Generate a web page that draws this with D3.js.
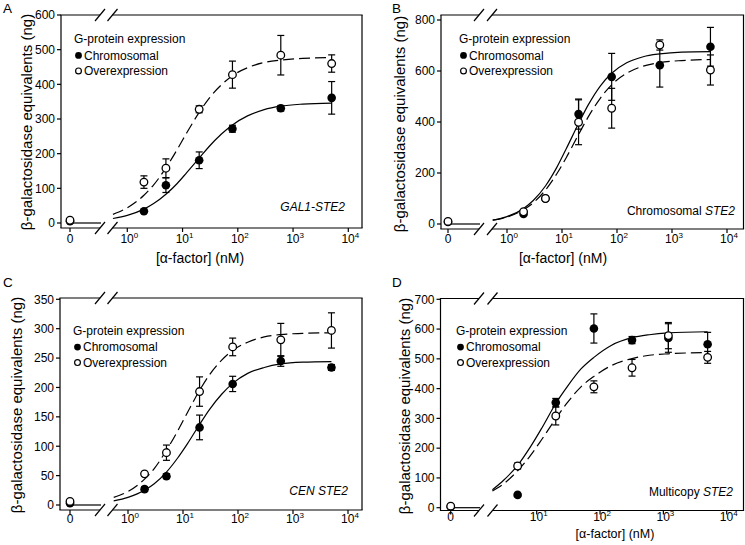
<!DOCTYPE html>
<html><head><meta charset="utf-8">
<script src="https://cdn.jsdelivr.net/npm/d3@7"></script>
<style>
body{margin:0;background:#fff;}
svg{display:block;font-family:"Liberation Sans",Arial,Helvetica,sans-serif;}
</style></head><body>
<svg id="c" width="745" height="545"></svg>
<script>
// ---------------- data ----------------
const seriesNames = ["Chromosomal", "Overexpression"];
const legendTitle = "G-protein expression";
const yTitle = "\u03B2-galactosidase equivalents (ng)";

// Panel A : GAL1-STE2
const concA = [0, 2, 5, 20, 80, 600, 5000];
const chromA = [5, 34, 109, 181, 272, 331, 361];
const chromErrA = [0, 3, 21, 24, 10, 8, 47];
const overA = [8, 118, 158, 328, 428, 484, 460];
const overErrA = [0, 18, 27, 10, 39, 57, 25];
const yTicksA = [0, 100, 200, 300, 400, 500, 600];

// Panel B : Chromosomal STE2
const concB = [0, 2, 5, 20, 80, 600, 5000];
const chromB = [8, 39, 100, 431, 577, 623, 695];
const chromErrB = [0, 4, 0, 59, 92, 86, 76];
const overB = [10, 48, 100, 399, 454, 702, 604];
const overErrB = [0, 5, 5, 88, 78, 20, 59];
const yTicksB = [0, 200, 400, 600, 800];

// Panel C : CEN STE2
const concC = [0, 2, 5, 20, 80, 600, 5000];
const chromC = [3, 27, 49, 132, 206, 245, 234];
const chromErrC = [0, 4, 4, 21, 13, 9, 5];
const overC = [6, 53, 89, 193, 269, 281, 297];
const overErrC = [0, 3, 13, 25, 15, 28, 30];
const yTicksC = [0, 50, 100, 150, 200, 250, 300, 350];

// Panel D : Multicopy STE2
const concD = [0, 5, 20, 80, 320, 1200, 5000];
const chromD = [3, 43, 353, 602, 563, 570, 549];
const chromErrD = [0, 0, 14, 49, 12, 48, 40];
const overD = [5, 140, 308, 406, 470, 578, 505];
const overErrD = [0, 10, 30, 20, 28, 44, 20];
const yTicksD = [0, 100, 200, 300, 400, 500, 600, 700];

// fitted curves
const fitConcABC = [0.55, 1, 2, 3, 5, 8, 12, 20, 30, 50, 80, 150, 300, 600, 1500, 5000];
const fitChromA = [13, 22, 40, 56, 83, 114, 146, 187, 220, 256, 283, 309, 327, 337, 343, 346];
const fitOverA  = [25, 44, 80, 110, 159, 212, 261, 319, 359, 398, 425, 448, 463, 470, 475, 477];
const fitChromB = [15, 29, 61, 92, 149, 221, 296, 394, 467, 542, 591, 632, 656, 667, 674, 676];
const fitOverB  = [15, 27, 56, 83, 133, 196, 261, 351, 420, 494, 546, 591, 619, 633, 641, 645];
const fitChromC = [7, 13, 25, 36, 56, 80, 104, 137, 162, 188, 207, 224, 234, 240, 243, 244];
const fitOverC  = [13, 23, 44, 62, 93, 126, 157, 195, 221, 246, 263, 277, 286, 290, 292, 293];
const fitConcD = [2, 3, 5, 8, 12, 20, 30, 50, 80, 150, 320, 600, 1200, 5000];
const fitChromD = [60, 92, 142, 205, 267, 350, 405, 466, 505, 545, 571, 581, 587, 591];
const fitOverD  = [56, 80, 124, 176, 229, 299, 351, 406, 441, 477, 501, 512, 517, 521];

const xTicksABC = [0, 1, 10, 100, 1000, 10000];
const xTicksD = [0, 10, 100, 1000, 10000];

// ---------------- layout ----------------
const panels = [
  {letter:"A", lp:[3,13], fr:[61,362,15,228], x0:70, logDom:[1,1e4], logRng:[127.3,348.3],
   yDom:[0,600], yRng:[223,15], yTicks:yTicksA, xTicks:xTicksABC, brk:[100,112.5],
   conc:concA, chrom:chromA, chromErr:chromErrA, over:overA, overErr:overErrA,
   fitConc:fitConcABC, fitChrom:fitChromA, fitOver:fitOverA,
   leg:[74,43.3], note:[["GAL1-STE2",true]], noteXY:[345,211],
   yt:[32,122], xt:[200,263], xtf:14, xtb:243},
  {letter:"B", lp:[392,13], fr:[441,743.5,15,229], x0:448, logDom:[1,1e4], logRng:[507,727],
   yDom:[0,800], yRng:[224,20], yTicks:yTicksB, xTicks:xTicksABC, brk:[479,492],
   conc:concB, chrom:chromB, chromErr:chromErrB, over:overB, overErr:overErrB,
   fitConc:fitConcABC, fitChrom:fitChromB, fitOver:fitOverB,
   leg:[459,43.3], note:[["Chromosomal ",false],["STE2",true]], noteXY:[735,215],
   yt:[405,124], xt:[563,263], xtf:14, xtb:243},
  {letter:"C", lp:[3,287], fr:[60,362,298,510], x0:70, logDom:[1,1e4], logRng:[128,348],
   yDom:[0,350], yRng:[505,299.3], yTicks:yTicksC, xTicks:xTicksABC, brk:[100,112.5],
   conc:concC, chrom:chromC, chromErr:chromErrC, over:overC, overErr:overErrC,
   fitConc:fitConcABC, fitChrom:fitChromC, fitOver:fitOverC,
   leg:[73,335], note:[["CEN STE2",true]], noteXY:[348,495],
   yt:[22,405], xt:null, xtf:14, xtb:523},
  {letter:"D", lp:[392,287], fr:[440.5,743.5,298.5,510.5], x0:450.7, logDom:[10,1e4], logRng:[536.7,726.7],
   yDom:[0,700], yRng:[507.7,299.3], yTicks:yTicksD, xTicks:xTicksD, brk:[479,492.5],
   conc:concD, chrom:chromD, chromErr:chromErrD, over:overD, overErr:overErrD,
   fitConc:fitConcD, fitChrom:fitChromD, fitOver:fitOverD,
   leg:[456,335], note:[["Multicopy ",false],["STE2",true]], noteXY:[733,496],
   yt:[410,406], xt:[615,538], xtf:12.5, xtb:521}
];

const svg = d3.select("#c");
const LW = 1.2;

panels.forEach(p => {
  const g = svg.append("g");
  const [L, R, T, B] = p.fr;
  const xl = d3.scaleLog().domain(p.logDom).range(p.logRng);
  const y = d3.scaleLinear().domain(p.yDom).range(p.yRng);
  const X = c => c === 0 ? p.x0 : xl(c);
  const [b1, b2] = p.brk;

  // frame (broken at top and bottom)
  const fr = g.append("g").attr("stroke", "#000").attr("stroke-width", LW).attr("fill", "none");
  fr.append("line").attr("x1", L).attr("x2", L).attr("y1", T).attr("y2", B);
  fr.append("line").attr("x1", R).attr("x2", R).attr("y1", T).attr("y2", B);
  [T, B].forEach(yy => {
    fr.append("line").attr("x1", L - LW/2).attr("x2", b1).attr("y1", yy).attr("y2", yy);
    fr.append("line").attr("x1", b2).attr("x2", R + LW/2).attr("y1", yy).attr("y2", yy);
    [b1, b2].forEach(bx => {
      fr.append("line").attr("x1", bx - 5).attr("x2", bx + 5).attr("y1", yy + 6).attr("y2", yy - 6);
    });
  });

  // y axis ticks + labels
  p.yTicks.forEach(t => {
    g.append("line").attr("x1", L - 4).attr("x2", L).attr("y1", y(t)).attr("y2", y(t))
      .attr("stroke", "#000").attr("stroke-width", LW);
    g.append("text").attr("x", L - 6).attr("y", y(t) + 4.3).attr("text-anchor", "end")
      .attr("font-size", 12).text(t);
  });
  // x axis ticks + labels
  p.xTicks.forEach(t => {
    const xx = X(t);
    g.append("line").attr("x1", xx).attr("x2", xx).attr("y1", B).attr("y2", B + 4)
      .attr("stroke", "#000").attr("stroke-width", LW);
    const tx = g.append("text").attr("y", p.xtb).attr("font-size", 12).attr("text-anchor", "middle");
    if (t === 0) { tx.attr("x", xx).text("0"); }
    else {
      tx.attr("x", xx + 2);
      tx.append("tspan").text("10");
      tx.append("tspan").attr("font-size", 8).attr("dy", -5).text(Math.round(Math.log10(t)));
    }
  });

  // titles
  g.append("text").attr("transform", `translate(${p.yt[0]},${p.yt[1]}) rotate(-90)`)
    .attr("text-anchor", "middle").attr("font-size", 15).text(yTitle);
  if (p.xt) {
    g.append("text").attr("x", p.xt[0]).attr("y", p.xt[1]).attr("text-anchor", "middle")
      .attr("font-size", p.xtf).text("[\u03B1-factor] (nM)");
  }
  g.append("text").attr("x", p.lp[0]).attr("y", p.lp[1]).attr("font-size", 13.5).text(p.letter);

  // annotation
  const nt = g.append("text").attr("x", p.noteXY[0]).attr("y", p.noteXY[1]).attr("text-anchor", "end").attr("font-size", 12);
  p.note.forEach(([s, it]) => nt.append("tspan").attr("font-style", it ? "italic" : "normal").text(s));

  // fitted curves
  const line = d3.line().x(d => xl(d[0])).y(d => y(d[1])).curve(d3.curveMonotoneX);
  g.append("line").attr("x1", p.x0).attr("x2", b1 + 1).attr("y1", y(0)).attr("y2", y(0))
    .attr("stroke", "#000").attr("stroke-width", LW);
  g.append("path").datum(p.fitConc.map((c, i) => [c, p.fitOver[i]])).attr("d", line)
    .attr("fill", "none").attr("stroke", "#000").attr("stroke-width", LW).attr("stroke-dasharray", "11,5");
  g.append("path").datum(p.fitConc.map((c, i) => [c, p.fitChrom[i]])).attr("d", line)
    .attr("fill", "none").attr("stroke", "#000").attr("stroke-width", LW);

  // error bars
  const eb = (vals, errs) => p.conc.forEach((c, i) => {
    const e = errs[i]; if (!e) return;
    const xx = X(c), y1 = y(vals[i] - e), y2 = y(vals[i] + e);
    g.append("line").attr("x1", xx).attr("x2", xx).attr("y1", y1).attr("y2", y2).attr("stroke", "#000").attr("stroke-width", LW);
    [y1, y2].forEach(yy => g.append("line").attr("x1", xx - 3.5).attr("x2", xx + 3.5).attr("y1", yy).attr("y2", yy)
      .attr("stroke", "#000").attr("stroke-width", LW));
  });
  eb(p.chrom, p.chromErr);
  eb(p.over, p.overErr);

  // markers
  g.selectAll(null).data(p.conc).enter().append("circle")
    .attr("cx", d => X(d)).attr("cy", (d, i) => y(p.chrom[i])).attr("r", 4.3).attr("fill", "#000");
  g.selectAll(null).data(p.conc).enter().append("circle")
    .attr("cx", d => X(d)).attr("cy", (d, i) => y(p.over[i])).attr("r", 3.8)
    .attr("fill", "#fff").attr("stroke", "#000").attr("stroke-width", 1.3);

  // legend
  const [lx, ly] = p.leg;
  g.append("text").attr("x", lx).attr("y", ly).attr("font-size", 12).text(legendTitle);
  seriesNames.forEach((s, i) => {
    const by = ly + 16.3 + i * 15.5;
    g.append("circle").attr("cx", lx + 4.5).attr("cy", by - 4.2).attr("r", i ? 2.9 : 3.4)
      .attr("fill", i ? "#fff" : "#000").attr("stroke", "#000").attr("stroke-width", i ? 1.2 : 0);
    g.append("text").attr("x", lx + 10).attr("y", by).attr("font-size", 12).text(s);
  });
});
</script>
</body></html>
